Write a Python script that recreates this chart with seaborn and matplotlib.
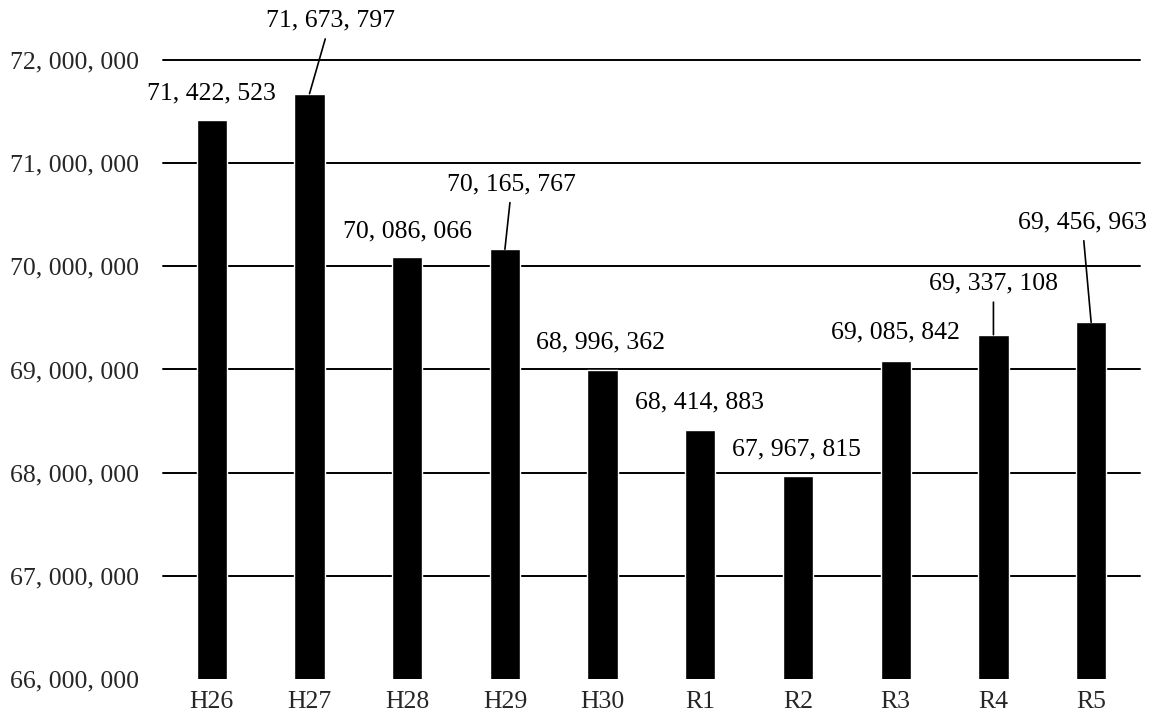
import matplotlib
matplotlib.use("Agg")
import matplotlib.pyplot as plt
import seaborn as sns
import pandas as pd

# Annual totals by fiscal year
years = ["H26", "H27", "H28", "H29", "H30", "R1", "R2", "R3", "R4", "R5"]
totals = [71422523, 71673797, 70086066, 70165767, 68996362,
          68414883, 67967815, 69085842, 69337108, 69456963]
y_ticks = [66000000, 67000000, 68000000, 69000000, 70000000, 71000000, 72000000]

# Label placement (pixel offset of label centre from bar top) and leader lines
label_offsets = [(0, 26), (21, 73), (0, 26), (7, 65), (-2, 27),
                 (-1, 27), (-2, 27), (0, 28), (0, 51), (-9, 100)]
leaders = [False, True, False, True, False, False, False, False, True, True]

sns.set_theme(style="white")
plt.rcParams["font.family"] = ["Liberation Serif", "DejaVu Serif"]

def fmt(v):
    return f"{v:,}".replace(",", ", ")

df = pd.DataFrame({"year": years, "total": totals})

fig = plt.figure(figsize=(11.59, 7.22), dpi=100)
ax = fig.add_axes([0.1406, 0.0596, 0.9836 - 0.1406, 0.9169 - 0.0596])

sns.barplot(data=df, x="year", y="total", color="black", width=0.31,
            saturation=1, ax=ax)

ax.set_ylim(y_ticks[0], y_ticks[-1])
ax.set_xlim(-0.5, len(years) - 0.5)
ax.set_yticks(y_ticks)
ax.set_yticklabels([fmt(v) for v in y_ticks], fontsize=18.5)
ax.tick_params(axis="y", length=0, pad=17)
ax.tick_params(axis="x", length=0, pad=9, labelsize=18.5)
ax.set_xlabel("")
ax.set_ylabel("")
for s in ax.spines.values():
    s.set_visible(False)

ax.set_axisbelow(True)
ax.yaxis.grid(True, color="black", linewidth=1.4)
grid = ax.get_ygridlines()
grid[0].set_visible(False)
for g in grid:
    g.set_clip_on(False)

for i, (v, (dx, dy), lead) in enumerate(zip(totals, label_offsets, leaders)):
    kw = {}
    if lead:
        kw["arrowprops"] = dict(arrowstyle="-", color="black", lw=1.2,
                                shrinkA=3, shrinkB=0)
    ax.annotate(fmt(v), xy=(i, v), xytext=(dx, dy), textcoords="offset pixels",
                ha="center", va="center", fontsize=18.5, color="black",
                annotation_clip=False, **kw)

fig.savefig("out.png", dpi=100)
